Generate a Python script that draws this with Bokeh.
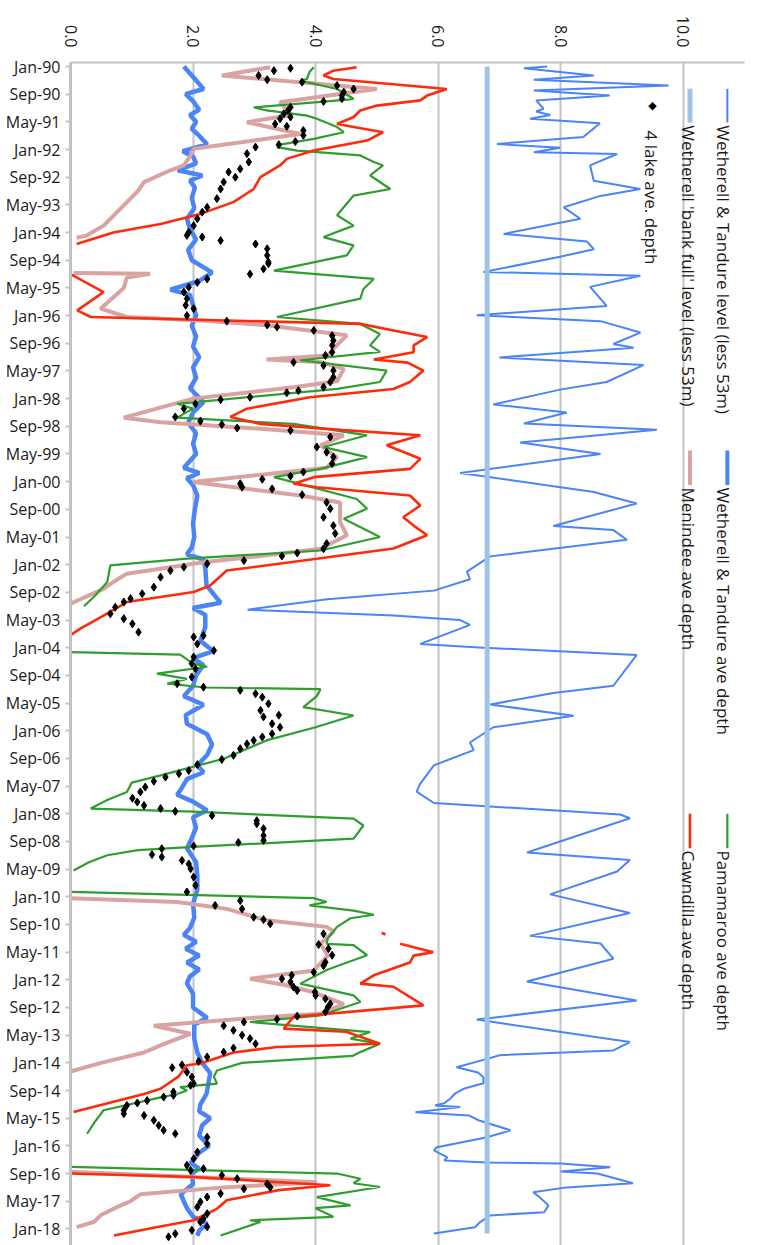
import math
from bokeh.plotting import figure
from bokeh.models import Range1d, FixedTicker, Label, BoxAnnotation, ColumnDataSource, NumeralTickFormatter, Span
from bokeh.embed import file_html
from bokeh.resources import INLINE

nan = float("nan")

# ---------------- data (months since Jan-1990, metres) ----------------
tick_months = list(range(0, 337, 8))
tick_labels = ["Jan-90", "Sep-90", "May-91", "Jan-92", "Sep-92", "May-93", "Jan-94", "Sep-94",
               "May-95", "Jan-96", "Sep-96", "May-97", "Jan-98", "Sep-98", "May-99", "Jan-00",
               "Sep-00", "May-01", "Jan-02", "Sep-02", "May-03", "Jan-04", "Sep-04", "May-05",
               "Jan-06", "Sep-06", "May-07", "Jan-08", "Sep-08", "May-09", "Jan-10", "Sep-10",
               "May-11", "Jan-12", "Sep-12", "May-13", "Jan-14", "Sep-14", "May-15", "Jan-16",
               "Sep-16", "May-17", "Jan-18"]
value_ticks = [0, 2, 4, 6, 8, 10]

# Wetherell & Tandure level (less 53m)
level_month = [0, 0.5, 2.6, 3.8, 5.5, 6.9, 8.4, 9.8, 12.2, 13, 14, 15.1, 16.4, 20.4, 22.4, 23.5, 24.8,
               25.3, 28.6, 33, 35.4, 37.4, 40.7, 44, 48.4, 50.6, 52.8, 55, 59.4, 60.5, 63.7, 69.2,
               71.9, 73.6, 76.9, 80.2, 81.3, 84.1, 86.3, 91.2, 93.4, 97.7, 100, 103.2, 105, 108.7,
               112, 117.5, 123, 126.3, 132.8, 134, 136.8, 141.6, 146, 148.2, 151.5, 154, 157, 158.7,
               160, 161.4, 166.9, 168, 170.1, 179, 181.1, 184.4, 187.7, 191, 195.4, 197.6, 202,
               207.5, 209.6, 212.9, 216.2, 217.3, 227.2, 229.4, 232.7, 239.3, 244.7, 251.3, 253.5,
               257.9, 264.5, 270, 275.5, 282, 284.4, 285.8, 286.7, 289.3, 290.8, 292.2, 293.9, 295.4,
               296.8, 298.3, 299.7, 300.3, 300.8, 302.3, 303.2, 304.6, 307.5, 309.5, 312.4, 313.3,
               315.3, 316.2, 316.8, 317.1, 318.2, 319.4, 320, 322.8, 324, 325.4, 326.9, 329.2, 331.2,
               332.1, 334.1, 335.5, 337.3]
level_value = [7.78, 7.4, 8.54, 7.56, 9.76, 7.56, 8.8, 7.6, 7.72, 7.6, 7.83, 7.5, 8.64, 8.37, 6.96,
               7.99, 7.56, 8.92, 8.48, 8.54, 9.3, 8.65, 8.05, 8.32, 7.07, 8.43, 8.54, 7.99, 6.74, 9.3,
               8.48, 8.75, 6.63, 8.65, 9.3, 8.86, 9.19, 7.0, 9.35, 8.75, 7.99, 6.9, 8.1, 7.4, 9.57,
               7.34, 8.65, 6.36, 8.54, 9.24, 7.88, 8.86, 9.08, 6.85, 6.47, 6.52, 5.93, 4.19, 2.89,
               5.27, 6.36, 6.52, 5.71, 6.74, 9.24, 8.86, 7.88, 6.85, 8.21, 6.9, 6.52, 6.58, 5.93,
               5.7, 5.65, 5.93, 8.97, 9.13, 7.45, 9.13, 8.92, 7.83, 9.13, 7.5, 8.65, 8.86, 7.45,
               9.24, 6.63, 9.13, 8.86, 7.0, 6.83, 6.3, 6.65, 6.74, 6.74, 6.43, 6.28, 6.2, 6.1, 5.95,
               6.36, 5.63, 6.5, 6.66, 7.18, 6.8, 5.98, 5.93, 6.15, 6.1, 6.8, 8.0, 8.81, 8.0, 8.6,
               9.18, 8.1, 7.55, 7.66, 7.8, 7.73, 6.85, 6.68, 6.6, 5.93]

# Wetherell 'bank full' level (less 53m)
bank_month = [0, 337.3]
bank_value = [6.8, 6.8]

# Wetherell & Tandure ave depth
wt_month = [0, 2, 4, 6.5, 8, 10, 12.5, 14, 16, 18, 20, 22.5, 24.5, 26, 28, 30, 31.5, 33, 35, 38, 41, 44,
            47, 50, 53, 56, 59.5, 62, 64.5, 66, 69, 72, 75, 78, 81, 84, 87, 90, 93, 97, 100, 103, 106,
            109, 112, 116, 117.5, 119, 121, 124, 128, 132, 136, 139, 141, 142.5, 145, 150, 155, 156.5,
            158.5, 162, 166, 169, 171, 173, 176, 179, 182, 184.5, 187.5, 190, 193, 196, 199, 202, 204,
            206, 209, 210.5, 212.5, 215, 217, 220, 223, 226, 230, 234, 238, 242, 246, 249, 251, 253,
            255, 257, 259, 261, 263, 265, 268, 272, 275, 277, 281, 285, 288, 291, 294, 297, 300, 302,
            304, 306, 309, 312, 314, 317, 318.5, 320, 323, 326, 328, 330, 332.5, 334.5, 336.5, 338]
wt_value = [1.85, 1.95, 2.05, 2.17, 1.88, 2.0, 2.1, 1.95, 2.05, 1.98, 2.1, 2.23, 1.83, 2.0, 2.05, 1.75,
            2.15, 1.95, 2.03, 1.98, 2.02, 1.9, 1.95, 2.05, 1.92, 1.98, 2.31, 2.1, 1.63, 1.95, 2.0, 2.05,
            1.98, 2.05, 2.0, 2.1, 2.0, 2.05, 1.95, 2.17, 2.0, 1.92, 2.05, 2.0, 2.05, 1.85, 2.1, 1.9,
            2.0, 2.07, 2.03, 2.0, 2.02, 1.98, 1.9, 2.17, 2.2, 2.22, 2.45, 2.0, 2.2, 2.2, 2.12, 2.33,
            2.0, 2.17, 2.05, 2.0, 1.85, 2.17, 1.88, 1.9, 2.23, 2.31, 2.23, 2.07, 2.17, 1.9, 1.8, 1.74,
            2.0, 2.23, 2.0, 2.05, 1.98, 1.9, 2.05, 2.07, 2.07, 2.0, 2.02, 1.95, 1.85, 2.05, 1.88, 2.1,
            1.9, 2.1, 1.95, 1.9, 2.0, 2.0, 2.23, 2.02, 2.02, 2.07, 2.15, 2.28, 2.25, 2.22, 2.12, 2.1,
            2.28, 2.15, 2.1, 2.26, 2.1, 1.96, 2.1, 1.98, 2.0, 1.8, 1.85, 1.9, 2.0, 2.23, 2.1, 2.07]

# Menindee ave depth (nan = no value)
men_month = [0.2, 2.6, 6.5, 7.5, 10.3, 12, 14, 16.1, 19.5, 23.8, 26, 28.6, 30, 33.4, 36, 41, 46, 48.8,
             49.5, nan,
             59.7, 59.9, 61, 64, 70, 72.4, 73.5, 74.8, 77.7, 80.5, 83.5, 84.7, 85.5, 87.4, 91, 92.7,
             96, 101.5, 102.8, 104.7, 106.6, 109.5, 113, 116, 120.1, 124, 126, 131.7, 135.5, 139.4,
             141.3, 143.3, 146.6, 149, 151, 155.3, nan,
             240.4, 241.5, 243.5, 246.8, 248.7, 250, 253.6, 257, 261.3, 263.7, 265.5, 267.6, 271,
             273.8, 275, 277.3, 279.6, 282, 285, 288, 290.5, nan,
             319.5, 321, 322.5, 324, 326, 328, 329.7, 332, 334, 335.5]
men_value = [3.26, 2.47, 5.0, 4.57, 3.42, 3.5, 3.6, 2.88, 3.75, 2.01, 1.95, 1.85, 1.63, 1.2, 1.1, 0.82,
             0.54, 0.27, 0.1, nan,
             0.05, 1.3, 0.92, 0.87, 0.49, 0.92, 2.2, 3.2, 4.51, 4.35, 4.2, 3.2, 4.1, 4.46, 4.35, 3.64,
             2.0, 0.87, 1.47, 3.1, 4.46, 4.08, 4.35, 4.18, 2.0, 3.75, 4.4, 4.4, 4.51, 4.08, 3.2, 2.17,
             0.92, 0.7, 0.54, 0.0, nan,
             0.0, 1.74, 2.55, 3.2, 4.18, 4.3, 4.08, 4.2, 3.97, 2.93, 3.5, 3.97, 4.46, 4.08, 3.0, 1.36,
             1.96, 1.6, 1.2, 0.5, 0.0, nan,
             0.0, 2.0, 4.02, 2.5, 1.14, 0.98, 0.76, 0.5, 0.38, 0.1]

# Pamamaroo ave depth
pam_month = [0.2, 1.6, 3.6, 4.1, 6.5, 9.3, 9.5, 11.8, 12.7, 14.2, 15.1, 17.5, 19, 20.9, 22.6, 23.3, 24.3,
             25.7, 27.6, 28.6, 31.5, 35.4, 37.3, 43, 46, 49.3, 51.7, 54.6, 59, 61.4, 64.3, 67.1, 72.4,
             74.4, 77.3, 80.6, 82.5, 84.9, 87.9, 91.2, 93.2, 97.5, 98.9, 101.5, 103.3, 106.6, 110,
             112.9, 116.3, 118.7, 125, 127.8, 130.7, 136, 139.9, 142.3, 144.2, 149, 153, 156, nan,
             169.3, 170, 172.6, 173.5, 175.5, 177, 178.4, 179.5, 180, 182, 185.2, 187.6, 191, 194.8,
             200.1, 204.9, 207, 209.7, 212, 214.5, 215.4, 217.4, 219.4, 223.2, 225.6, 226.5, 228, 230,
             232.4, nan,
             238.6, 240.4, 241.5, 242.5, 244, 245.2, 246.2, 248.7, 252, 253.6, 254, 256.9, 261, 265.1,
             268.5, 270.4, 274.3, 276.2, 279.1, 281, 282.5, 284.9, 286, 288, 290.2, 292, 294, 295, 296,
             297, 298, 301.7, 305, 308.5, nan,
             318.1, 320, 321.5, 322.8, 323.9, 326.8, 329.2, 330, 332.5, 333.5, 334, 337.9]
pam_value = [3.97, 3.9, 3.86, 3.75, 4.35, 4.62, 4.57, 2.99, 3.2, 3.86, 4.02, 4.35, 4.46, 3.97, 3.42, 3.37,
             3.7, 4.73, 4.95, 5.1, 4.89, 5.22, 4.62, 4.35, 4.62, 4.13, 4.62, 4.51, 3.32, 4.95, 4.78,
             4.73, 3.37, 4.73, 5.05, 4.89, 5.05, 3.75, 5.16, 5.05, 4.35, 1.74, 2.0, 1.74, 3.64, 4.84,
             4.13, 4.84, 4.08, 3.32, 4.67, 4.84, 4.46, 5.05, 4.08, 1.85, 0.65, 0.6, 0.4, 0.22, nan,
             0.0, 1.79, 2.0, 2.23, 1.41, 1.9, 1.58, 2.2, 4.08, 4.02, 3.8, 4.62, 4.0, 3.2, 2.5, 1.47,
             1.0, 0.92, 0.6, 0.33, 2.0, 4.62, 4.78, 4.62, 2.0, 1.1, 0.6, 0.3, 0.05, nan,
             0.0, 3.97, 4.18, 3.9, 4.62, 4.95, 4.57, 4.35, 4.2, 4.18, 4.62, 4.84, 4.2, 3.75, 4.62,
             4.73, 4.08, 2.93, 4.89, 4.57, 5.05, 4.73, 4.6, 2.8, 2.39, 2.34, 2.39, 1.79, 1.9, 1.74,
             1.47, 0.54, 0.4, 0.27, nan,
             0.0, 4.35, 4.73, 4.62, 5.05, 4.02, 4.57, 4.0, 4.29, 2.93, 3.1, 2.45]

# Cawndilla ave depth
caw_month = [0.2, 1.2, 2.6, 3.6, 6.5, 8.4, 9.8, 11.3, 12.7, 14.6, 16.6, 19, 21.4, 24.3, 26.7, 28.6, 32,
             35.4, 39.2, 42.6, 45.5, 48, 51.3, nan,
             60, 65.2, 70.5, 72.4, 74.4, 76.3, 78.2, 80.6, 82.6, 84.7, 85.6, 87.9, 91.2, 93.2, 95.6,
             98.9, 101.3, 103.3, 105.1, 106.6, 109.5, 113.4, 116.3, 118.7, 120.6, 121.6, 124, 126.9,
             130.3, 132.7, 135.5, 139.3, 142.3, 145.7, 150, 151.9, 154.8, 158.7, 162.5, 164.4, nan,
             250.4, 250.9, nan,
             253.6, 256, 257, 259, 262.7, 265.1, 266, 271.4, 274.7, 278.1, 279, 282.5, 283.4, 285,
             288.2, 288.7, 292, 295.5, 297, 302.2, nan,
             320, 321, 323.4, 324.8, 327.7, 330.2, 333.5, 335.5, 337.9]
caw_value = [4.67, 4.29, 4.13, 4.29, 6.14, 5.82, 5.71, 5.0, 4.73, 4.62, 4.35, 5.1, 4.84, 3.97, 3.53,
             3.42, 3.1, 2.99, 2.66, 2.12, 1.47, 0.7, 0.1, nan,
             0.0, 0.54, 0.11, 0.33, 4.73, 5.27, 5.82, 5.6, 5.6, 4.95, 5.5, 5.76, 5.54, 5.27, 3.91,
             2.88, 2.61, 3.1, 4.46, 5.71, 5.16, 5.71, 5.54, 3.97, 3.64, 4.02, 5.54, 5.71, 5.43, 5.6,
             5.82, 5.27, 4.02, 2.55, 2.28, 2.01, 0.92, 0.54, 0.16, 0.0, nan,
             5.08, 5.14, nan,
             5.38, 5.92, 5.6, 5.54, 4.95, 4.73, 5.27, 5.76, 3.64, 3.48, 4.5, 5.05, 3.37, 2.66, 2.12,
             1.9, 1.76, 1.47, 1.2, 0.05, nan,
             0.0, 2.0, 4.24, 3.4, 2.55, 2.39, 2.01, 1.4, 0.71]

# 4 lake ave. depth
lake_month = [0.5, 1.2, 2.6, 3.8, 4.5, 5.5, 6.5, 7.4, 8.4, 9.3, 10.1, 11.8, 12.7, 13.7, 14.6, 15.1, 16.6,
              17.3, 18.5, 19.9, 21.7, 22.6, 23.3, 25.2, 27.6, 29.6, 30.5, 32, 33.4, 35.4, 38.2, 40.7,
              42.1, 44, 46, 47.9, 48.8, 49.3, 50.3, 51.3, 52.7, 54.6, 56.5, 57, 58.5, 60, 61.4, 62.4,
              63.8, 65.2, 67.1, 69, 70, 72, 73.6, 74.7, 75.3, 76.3, 77.8, 79.2, 80.6, 82.6, 83.5, 85.5,
              86.4, 87.9, 89.8, 91.2, 92.7, 93.7, 94.3, 95.6, 96.3, 97.5, 98.9, 101.3, 102.5, 103.5,
              104.5, 105.2, 107.1, 110, 111.5, 112.9, 114.8, 117.2, 118.4, 119.3, 120.6, 121.6, 122.1,
              123.8, 126, 127.8, 130.3, 132.7, 135, 137.9, 139.4, 140.6, 141.5, 142.8, 143.7, 144.7,
              145.7, 147.6, 150.5, 152.4, 153.8, 154.8, 156.3, 158.2, 159.6, 161.1, 163.5, 164.5,
              164.9, 166.9, 168.8, 170.7, 172.6, 174.1, 176.5, 178.4, 179.4, 180.3, 181.3, 182.3,
              184.2, 186.1, 187.5, 188, 190, 191, 192.9, 193.8, 194.8, 195.8, 197.2, 199.1, 200.3,
              201.8, 203.5, 204.4, 205.4, 206.6, 208.3, 209.7, 211.5, 212.6, 213.6, 214.5, 215.3,
              216.5, 218, 218.9, 220.3, 222.3, 223.7, 224.3, 225.3, 226.1, 227.8, 228.5, 229.5, 230.5,
              231.9, 234.3, 236.7, 238.6, 241.1, 242.5, 243.5, 245.9, 246.6, 247.8, 250.7, 253.8, 255,
              256.9, 258.9, 259.9, 261.8, 262.7, 263.7, 264.6, 266.1, 267.1, 267.5, 268.5, 269.5,
              270.9, 271.9, 273.3, 274.5, 275.4, 276.2, 277.3, 278.6, 280, 281, 282.5, 283.7, 284.9,
              286.3, 287.6, 288.6, 289.4, 290.7, 292.1, 294, 294.5, 296.4, 297.4, 297.9, 298.9, 299.6,
              300.3, 301.7, 302.7, 303.2, 304.6, 306.1, 307.5, 308.5, 309.5, 311.4, 313.8, 315.7,
              317.6, 318.6, 319.1, 320.5, 321.5, 323, 324, 324.4, 325.8, 326.8, 328.2, 329.7, 331.6,
              333, 334, 335.4, 336.4, 337.4, 338.3]
lake_value = [3.59, 3.32, 3.07, 3.21, 3.78, 4.35, 4.62, 4.46, 4.43, 4.43, 4.13, 3.59, 3.55, 3.48, 3.59,
              3.42, 3.34, 3.53, 3.8, 3.8, 3.67, 3.4, 3.02, 2.88, 2.91, 2.77, 2.58, 2.69, 2.5, 2.45, 2.39,
              2.23, 2.15, 2.07, 2.01, 1.93, 1.9, 2.15, 2.45, 3.02, 3.21, 3.21, 3.23, 3.23, 3.15, 2.93,
              2.23, 2.07, 1.93, 1.85, 1.9, 1.88, 2.01, 1.9, 2.55, 3.21, 3.37, 3.97, 4.27, 4.29, 4.27,
              4.27, 4.16, 3.64, 4.13, 4.29, 4.29, 4.24, 4.13, 3.72, 3.53, 2.93, 2.45, 2.04, 1.85, 1.71,
              2.12, 2.47, 2.72, 3.59, 4.24, 4.02, 4.18, 4.29, 4.27, 3.8, 3.59, 3.13, 2.77, 2.8, 3.29,
              3.78, 4.18, 4.24, 4.13, 4.29, 4.32, 4.18, 4.13, 3.7, 3.45, 2.83, 2.23, 1.85, 1.63, 1.47,
              1.36, 1.17, 0.98, 0.87, 0.73, 0.65, 0.87, 1.01, 1.11, 2.17, 2.01, 2.07, 2.34, 2.01, 1.98,
              2.04, 1.98, 1.74, 2.17, 2.77, 3.02, 3.13, 3.23, 3.1, 3.4, 3.15, 3.29, 3.42, 3.29, 3.13,
              2.99, 2.88, 2.77, 2.66, 2.47, 2.07, 1.93, 1.77, 1.55, 1.36, 1.22, 1.14, 1.01, 1.09, 1.2,
              1.47, 1.71, 2.31, 3.04, 3.04, 3.15, 3.15, 3.15, 2.74, 2.01, 1.49, 1.33, 1.49, 1.82, 1.93,
              1.96, 2.01, 2.04, 1.9, 2.77, 2.36, 2.8, 2.99, 3.15, 3.26, 4.13, 4.05, 4.21, 4.27, 4.16,
              4.13, 3.97, 3.61, 3.45, 3.59, 3.64, 3.7, 3.99, 4.0, 4.16, 4.24, 4.2, 4.16, 3.7, 3.37,
              2.83, 2.5, 2.66, 2.8, 2.93, 3.02, 2.66, 2.5, 2.23, 2.09, 1.82, 1.66, 1.9, 1.98, 2.01,
              1.96, 1.68, 1.68, 1.52, 1.25, 1.09, 0.92, 0.87, 0.87, 1.2, 1.36, 1.44, 1.52, 1.71, 2.23,
              2.23, 2.07, 2.01, 1.9, 2.17, 1.96, 2.47, 2.72, 3.21, 3.26, 2.83, 2.45, 2.23, 2.12, 2.07,
              2.23, 2.17, 2.12, 2.23, 1.98, 1.71, 1.6]

# ---------------- figure ----------------
FONT = "Open Sans"
TXT = "#1b1b1b"
GRID = "#c2c2c2"

p = figure(width=778, height=1245, output_backend="svg", toolbar_location=None,
           x_range=Range1d(0, 11), y_range=Range1d(340.8, -1.16),
           x_axis_location="above", min_border_left=70, min_border_right=34,
           min_border_top=62, min_border_bottom=0)
p.outline_line_color = None
p.background_fill_color = "white"
p.border_fill_color = "white"

xa = p.xaxis[0]
xa.ticker = FixedTicker(ticks=value_ticks)
xa.formatter = NumeralTickFormatter(format="0.0")
xa.major_label_orientation = -math.pi / 2
xa.major_tick_out = 0
xa.major_tick_in = 0
xa.minor_tick_out = 0
xa.minor_tick_in = 0
xa.major_label_standoff = 15
xa.axis_line_color = GRID
xa.axis_line_width = 2
xa.major_label_text_font = FONT
xa.major_label_text_font_size = "16px"
xa.major_label_text_color = TXT

ya = p.yaxis[0]
ya.ticker = FixedTicker(ticks=tick_months)
ya.major_label_overrides = {m: lab for m, lab in zip(tick_months, tick_labels)}
ya.major_tick_out = 5
ya.major_tick_in = 0
ya.minor_tick_out = 0
ya.minor_tick_in = 0
ya.major_tick_line_color = GRID
ya.major_tick_line_width = 2
ya.major_label_standoff = 5
ya.axis_line_color = GRID
ya.axis_line_width = 3
ya.major_label_text_font = FONT
ya.major_label_text_font_size = "16px"
ya.major_label_text_color = TXT

p.xgrid.ticker = FixedTicker(ticks=value_ticks)
p.xgrid.grid_line_color = GRID
p.xgrid.grid_line_width = 2
p.ygrid.visible = False

# chart-area border on the right
p.add_layout(Span(location=11.375, dimension="height", line_color="#d4d4d4", line_width=1.5))

BLUE = "#4a84f6"
LIGHTBLUE = "#9ec3e6"
PINK = "#d8a3a1"
GREEN = "#2f9e2f"
RED = "#ff2a0a"

p.line(x="v", y="m", source=ColumnDataSource(dict(v=level_value, m=level_month)),
       line_color=BLUE, line_width=2)
p.line(x="v", y="m", source=ColumnDataSource(dict(v=bank_value, m=bank_month)),
       line_color=LIGHTBLUE, line_width=5)
p.line(x="v", y="m", source=ColumnDataSource(dict(v=wt_value, m=wt_month)),
       line_color=BLUE, line_width=4.5)
p.line(x="v", y="m", source=ColumnDataSource(dict(v=men_value, m=men_month)),
       line_color=PINK, line_width=4)
p.line(x="v", y="m", source=ColumnDataSource(dict(v=pam_value, m=pam_month)),
       line_color=GREEN, line_width=2.2)
p.line(x="v", y="m", source=ColumnDataSource(dict(v=caw_value, m=caw_month)),
       line_color=RED, line_width=2.6)
p.scatter(x="v", y="m", source=ColumnDataSource(dict(v=lake_value, m=lake_month)),
          marker="diamond", size=8, color="black")

# ---------------- rotated legend ----------------
def legend_text(x, y, text):
    p.add_layout(Label(x=x, y=y, text=text, angle=-math.pi / 2, text_align="left",
                       text_baseline="middle", text_font=FONT, text_font_size="17px",
                       text_color=TXT))

def legend_line(xc, y0, y1, color, w):
    half = w / 2 / 61.3
    p.add_layout(BoxAnnotation(left=xc - half, right=xc + half, top=y0, bottom=y1,
                               fill_color=color, fill_alpha=1, line_alpha=0))

colA, colB, colC = 10.72, 10.11, 9.5
legend_line(colA, 6.4, 16.2, BLUE, 2)
legend_text(colA - 0.06, 17, "Wetherell & Tandure level (less 53m)")
legend_line(colA, 111, 121, BLUE, 4)
legend_text(colA - 0.06, 121.7, "Wetherell & Tandure ave depth")
legend_line(colA, 216, 226, GREEN, 2.2)
legend_text(colA - 0.06, 226.6, "Pamamaroo ave depth")

legend_line(colB, 6.4, 16.2, LIGHTBLUE, 5)
legend_text(colB - 0.03, 17, "Wetherell 'bank full' level (less 53m)")
legend_line(colB, 111, 121, PINK, 4)
legend_text(colB - 0.03, 121.7, "Menindee ave depth")
legend_line(colB, 216, 226, RED, 2.6)
legend_text(colB - 0.03, 226.6, "Cawndilla ave depth")

p.add_layout(Label(x=colC, y=11.3, text="\u25c6", text_align="center", text_baseline="middle",
                   text_font="DejaVu Sans", text_font_size="11px", text_color="black"))
legend_text(colC - 0.01, 18.5, "4 lake ave. depth")

open("out.html", "w").write(file_html(p, INLINE))
